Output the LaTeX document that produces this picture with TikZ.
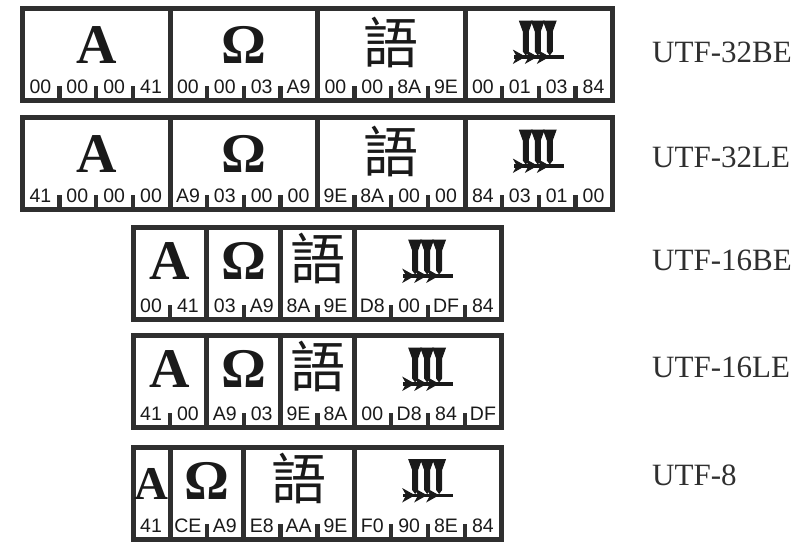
\documentclass[tikz,border=0pt]{standalone}
\usepackage{fontspec}
\setmainfont{Liberation Serif}
\newfontfamily\hexfont{Liberation Sans}
\newfontfamily\cjkfont{Noto Sans CJK SC}
\definecolor{frame}{HTML}{2F2F2F}
\definecolor{ink}{HTML}{1A1A1A}
\tikzset{
  cellbox/.style={draw=frame, line width=5pt, fill=white, rectangle, inner sep=0pt, outer sep=0pt, anchor=north west},
  glyph/.style={font=\bfseries\fontsize{56}{56}\selectfont, text=ink, anchor=base, inner sep=0pt},
  smallglyph/.style={font=\bfseries\fontsize{47}{47}\selectfont, text=ink, anchor=base, inner sep=0pt},
  cjkglyph/.style={font=\cjkfont\fontsize{55}{55}\selectfont, text=ink, anchor=base, inner sep=0pt},
  hexlabel/.style={font=\hexfont\fontsize{19.5}{19.5}\selectfont, text=ink, anchor=base, inner sep=0pt},
  enclabel/.style={font=\fontsize{31}{31}\selectfont, text=frame, anchor=base west, inner sep=0pt},
  bytetick/.style={fill=frame},
  cunei/.pic={
    \fill[ink] (-25,34.5) rectangle (25,38);
    \foreach \c in {-13,-1,11}{
      \fill[ink] (\c-7,0) -- (\c+7,0) -- (\c+3,11) -- (\c+3,31) -- (\c,35) -- (\c-3,31) -- (\c-3,11) -- cycle;
    }
    \foreach \s in {-26,-14,-2}{
      \fill[ink] (\s,29) -- (\s+13,36.2) -- (\s,43.5) -- (\s+4,36.2) -- cycle;
    }
  }
}
\newcommand\gbase{55}
% #1 name, #2 top, #3 first byte, #4 number of bytes, #5 glyph style, #6 glyph, #7 hex bytes
\newcommand\bytecell[7]{%
  \pgfmathsetmacro\cellx{22.5+#3*36.875}%
  \pgfmathsetmacro\cellw{#4*36.875}%
  \node[cellbox, minimum width=\cellw pt, minimum height=92pt] (#1) at (\cellx,#2) {};%
  \if\relax\detokenize{#6}\relax
    \path (#1.north) ++(0,12) pic {cunei};%
  \else
    \node[#5] (#1g) at ({\cellx+\cellw/2},{#2+\gbase}) {#6};%
  \fi
  \foreach \h [count=\i from 0] in {#7}{%
    \node[hexlabel] (#1b\i) at ({\cellx+(\i+0.5)*36.875-0.5},{#2+85}) {\h};%
    \ifnum\i>0
      \fill[bytetick] ({\cellx+\i*36.875-2.2},{#2+92}) rectangle ({\cellx+\i*36.875+2.2},{#2+77});%
    \fi
  }%
}
\begin{document}
\begin{tikzpicture}[x=1pt,y=-1pt]
\useasboundingbox[fill=white] (0,0) rectangle (810,541);
% UTF-32BE
\renewcommand\gbase{55}
\bytecell{ra}{8.5}{0}{4}{glyph}{A}{00,00,00,41}
\bytecell{rb}{8.5}{4}{4}{glyph}{Ω}{00,00,03,A9}
\bytecell{rc}{8.5}{8}{4}{cjkglyph}{語}{00,00,8A,9E}
\bytecell{rd}{8.5}{12}{4}{}{}{00,01,03,84}
% UTF-32LE
\bytecell{sa}{117.5}{0}{4}{glyph}{A}{41,00,00,00}
\bytecell{sb}{117.5}{4}{4}{glyph}{Ω}{A9,03,00,00}
\bytecell{sc}{117.5}{8}{4}{cjkglyph}{語}{9E,8A,00,00}
\bytecell{sd}{117.5}{12}{4}{}{}{84,03,01,00}
% UTF-16BE
\renewcommand\gbase{52}
\bytecell{ta}{227.5}{3}{2}{glyph}{A}{00,41}
\bytecell{tb}{227.5}{5}{2}{glyph}{Ω}{03,A9}
\bytecell{tc}{227.5}{7}{2}{cjkglyph}{語}{8A,9E}
\bytecell{td}{227.5}{9}{4}{}{}{D8,00,DF,84}
% UTF-16LE
\bytecell{ua}{335.5}{3}{2}{glyph}{A}{41,00}
\bytecell{ub}{335.5}{5}{2}{glyph}{Ω}{A9,03}
\bytecell{uc}{335.5}{7}{2}{cjkglyph}{語}{9E,8A}
\bytecell{ud}{335.5}{9}{4}{}{}{00,D8,84,DF}
% UTF-8
\bytecell{va}{447}{3}{1}{smallglyph}{A}{41}
\bytecell{vb}{447}{4}{2}{glyph}{Ω}{CE,A9}
\bytecell{vc}{447}{6}{3}{cjkglyph}{語}{E8,AA,9E}
\bytecell{vd}{447}{9}{4}{}{}{F0,90,8E,84}
% encoding names
\node[enclabel] (la) at (652,62) {UTF-32BE};
\node[enclabel] (lb) at (652,167) {UTF-32LE};
\node[enclabel] (lc) at (652,270) {UTF-16BE};
\node[enclabel] (ld) at (652,377) {UTF-16LE};
\node[enclabel] (le) at (652,485) {UTF-8};
\end{tikzpicture}
\end{document}
